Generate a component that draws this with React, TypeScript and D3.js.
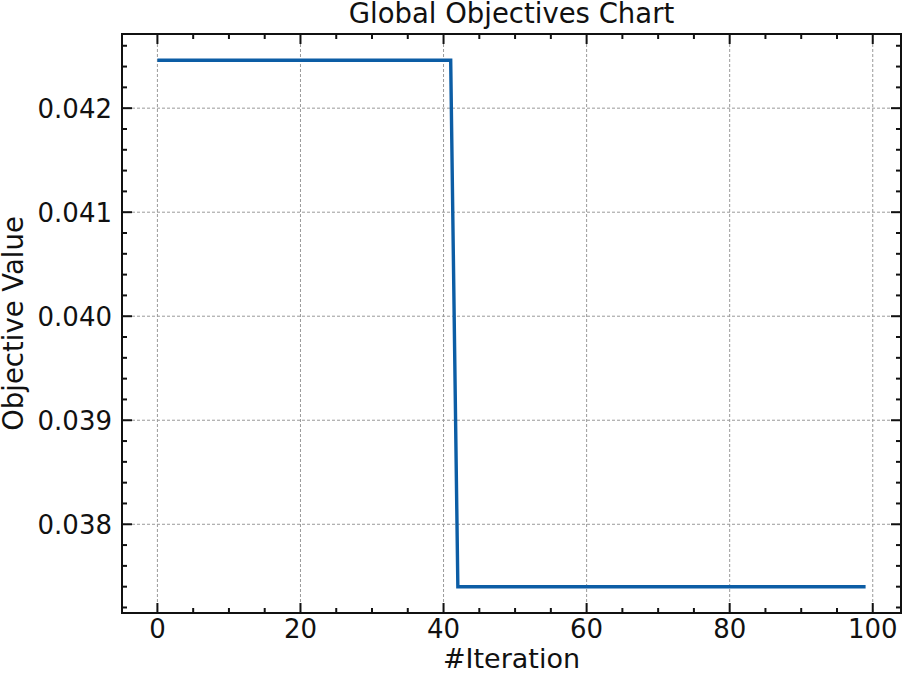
import React, { useEffect, useRef } from 'react';
import * as d3 from 'd3';

// global objective value per iteration (iterations 0..99)
const iterations = d3.range(0, 100);
const objectiveValues = [
  0.04246, 0.04246, 0.04246, 0.04246, 0.04246, 0.04246, 0.04246, 0.04246, 0.04246, 0.04246,
  0.04246, 0.04246, 0.04246, 0.04246, 0.04246, 0.04246, 0.04246, 0.04246, 0.04246, 0.04246,
  0.04246, 0.04246, 0.04246, 0.04246, 0.04246, 0.04246, 0.04246, 0.04246, 0.04246, 0.04246,
  0.04246, 0.04246, 0.04246, 0.04246, 0.04246, 0.04246, 0.04246, 0.04246, 0.04246, 0.04246,
  0.04246, 0.04246, 0.03740, 0.03740, 0.03740, 0.03740, 0.03740, 0.03740, 0.03740, 0.03740,
  0.03740, 0.03740, 0.03740, 0.03740, 0.03740, 0.03740, 0.03740, 0.03740, 0.03740, 0.03740,
  0.03740, 0.03740, 0.03740, 0.03740, 0.03740, 0.03740, 0.03740, 0.03740, 0.03740, 0.03740,
  0.03740, 0.03740, 0.03740, 0.03740, 0.03740, 0.03740, 0.03740, 0.03740, 0.03740, 0.03740,
  0.03740, 0.03740, 0.03740, 0.03740, 0.03740, 0.03740, 0.03740, 0.03740, 0.03740, 0.03740,
  0.03740, 0.03740, 0.03740, 0.03740, 0.03740, 0.03740, 0.03740, 0.03740, 0.03740, 0.03740,
];

const xTicks = [0, 20, 40, 60, 80, 100];
const yTicks = [0.038, 0.039, 0.04, 0.041, 0.042];

const W = 905, H = 674;
const FONT = 'DejaVu Sans, sans-serif';

export default function App() {
  const ref = useRef<SVGSVGElement>(null);

  useEffect(() => {
    const svg = d3.select(ref.current);
    svg.selectAll('*').remove();

    const margin = { top: 34, right: 4, bottom: 61, left: 122 };
    const width = W - margin.left - margin.right;
    const height = H - margin.top - margin.bottom;

    // matplotlib-like 5% margins
    const xPad = (d3.max(iterations)! - d3.min(iterations)!) * 0.05;
    const [yMin, yMax] = d3.extent(objectiveValues) as [number, number];
    const yPad = (yMax - yMin) * 0.05;

    const x = d3.scaleLinear().domain([d3.min(iterations)! - xPad, d3.max(iterations)! + xPad]).range([0, width]);
    const y = d3.scaleLinear().domain([yMin - yPad, yMax + yPad]).range([height, 0]);

    const g = svg.append('g').attr('transform', `translate(${margin.left},${margin.top})`);

    // grid
    const grid = g.append('g').attr('stroke', '#9a9a9a').attr('stroke-width', 1).attr('stroke-dasharray', '3,2');
    grid.selectAll('.gx').data(xTicks).enter().append('line')
      .attr('x1', d => x(d)).attr('x2', d => x(d)).attr('y1', 0).attr('y2', height);
    grid.selectAll('.gy').data(yTicks).enter().append('line')
      .attr('y1', d => y(d)).attr('y2', d => y(d)).attr('x1', 0).attr('x2', width);

    // series
    const line = d3.line<number>().x((d, i) => x(iterations[i])).y(d => y(d));
    g.append('path').datum(objectiveValues)
      .attr('fill', 'none').attr('stroke', '#0C5DA5').attr('stroke-width', 3.4)
      .attr('d', line);

    // inward ticks on all four sides
    const xMinor = d3.range(-5, 105, 5).filter(v => x(v) >= 0 && x(v) <= width && v % 20 !== 0);
    const yMinor = d3.range(0.0372, 0.0428, 0.0002).filter(v => y(v) >= 0 && y(v) <= height && Math.abs(v * 1000 - Math.round(v * 1000)) > 1e-6);

    const ticks = g.append('g').attr('stroke', '#111').attr('stroke-width', 2);
    const addX = (vals: number[], len: number) => {
      vals.forEach(v => {
        ticks.append('line').attr('x1', x(v)).attr('x2', x(v)).attr('y1', height).attr('y2', height - len);
        ticks.append('line').attr('x1', x(v)).attr('x2', x(v)).attr('y1', 0).attr('y2', len);
      });
    };
    const addY = (vals: number[], len: number) => {
      vals.forEach(v => {
        ticks.append('line').attr('y1', y(v)).attr('y2', y(v)).attr('x1', 0).attr('x2', len);
        ticks.append('line').attr('y1', y(v)).attr('y2', y(v)).attr('x1', width).attr('x2', width - len);
      });
    };
    addX(xTicks, 10);
    addX(xMinor, 5);
    addY(yTicks, 10);
    addY(yMinor, 5);

    // frame
    g.append('rect').attr('width', width).attr('height', height)
      .attr('fill', 'none').attr('stroke', '#111').attr('stroke-width', 2);

    // tick labels
    g.selectAll('.xl').data(xTicks).enter().append('text')
      .attr('x', d => x(d)).attr('y', height + 25)
      .attr('text-anchor', 'middle')
      .style('font-family', FONT).style('font-size', '26px').attr('fill', '#111')
      .text(d => d3.format('d')(d));
    g.selectAll('.yl').data(yTicks).enter().append('text')
      .attr('x', -10).attr('y', d => y(d)).attr('dy', '0.36em')
      .attr('text-anchor', 'end')
      .style('font-family', FONT).style('font-size', '26px').attr('fill', '#111')
      .text(d => d3.format('.3f')(d));

    // titles
    svg.append('text').attr('x', margin.left + width / 2).attr('y', 23)
      .attr('text-anchor', 'middle')
      .style('font-family', FONT).style('font-size', '27.5px').attr('fill', '#111')
      .text('Global Objectives Chart');
    svg.append('text').attr('x', margin.left + width / 2).attr('y', 668)
      .attr('text-anchor', 'middle')
      .style('font-family', FONT).style('font-size', '27px').attr('fill', '#111')
      .text('#Iteration');
    svg.append('text')
      .attr('transform', `translate(23,${margin.top + height / 2}) rotate(-90)`)
      .attr('text-anchor', 'middle')
      .style('font-family', FONT).style('font-size', '27.5px').attr('fill', '#111')
      .text('Objective Value');
  }, []);

  return (
    <svg ref={ref} width={W} height={H}
      style={{ position: 'absolute', left: 0, top: 0, background: '#fff' }} />
  );
}
